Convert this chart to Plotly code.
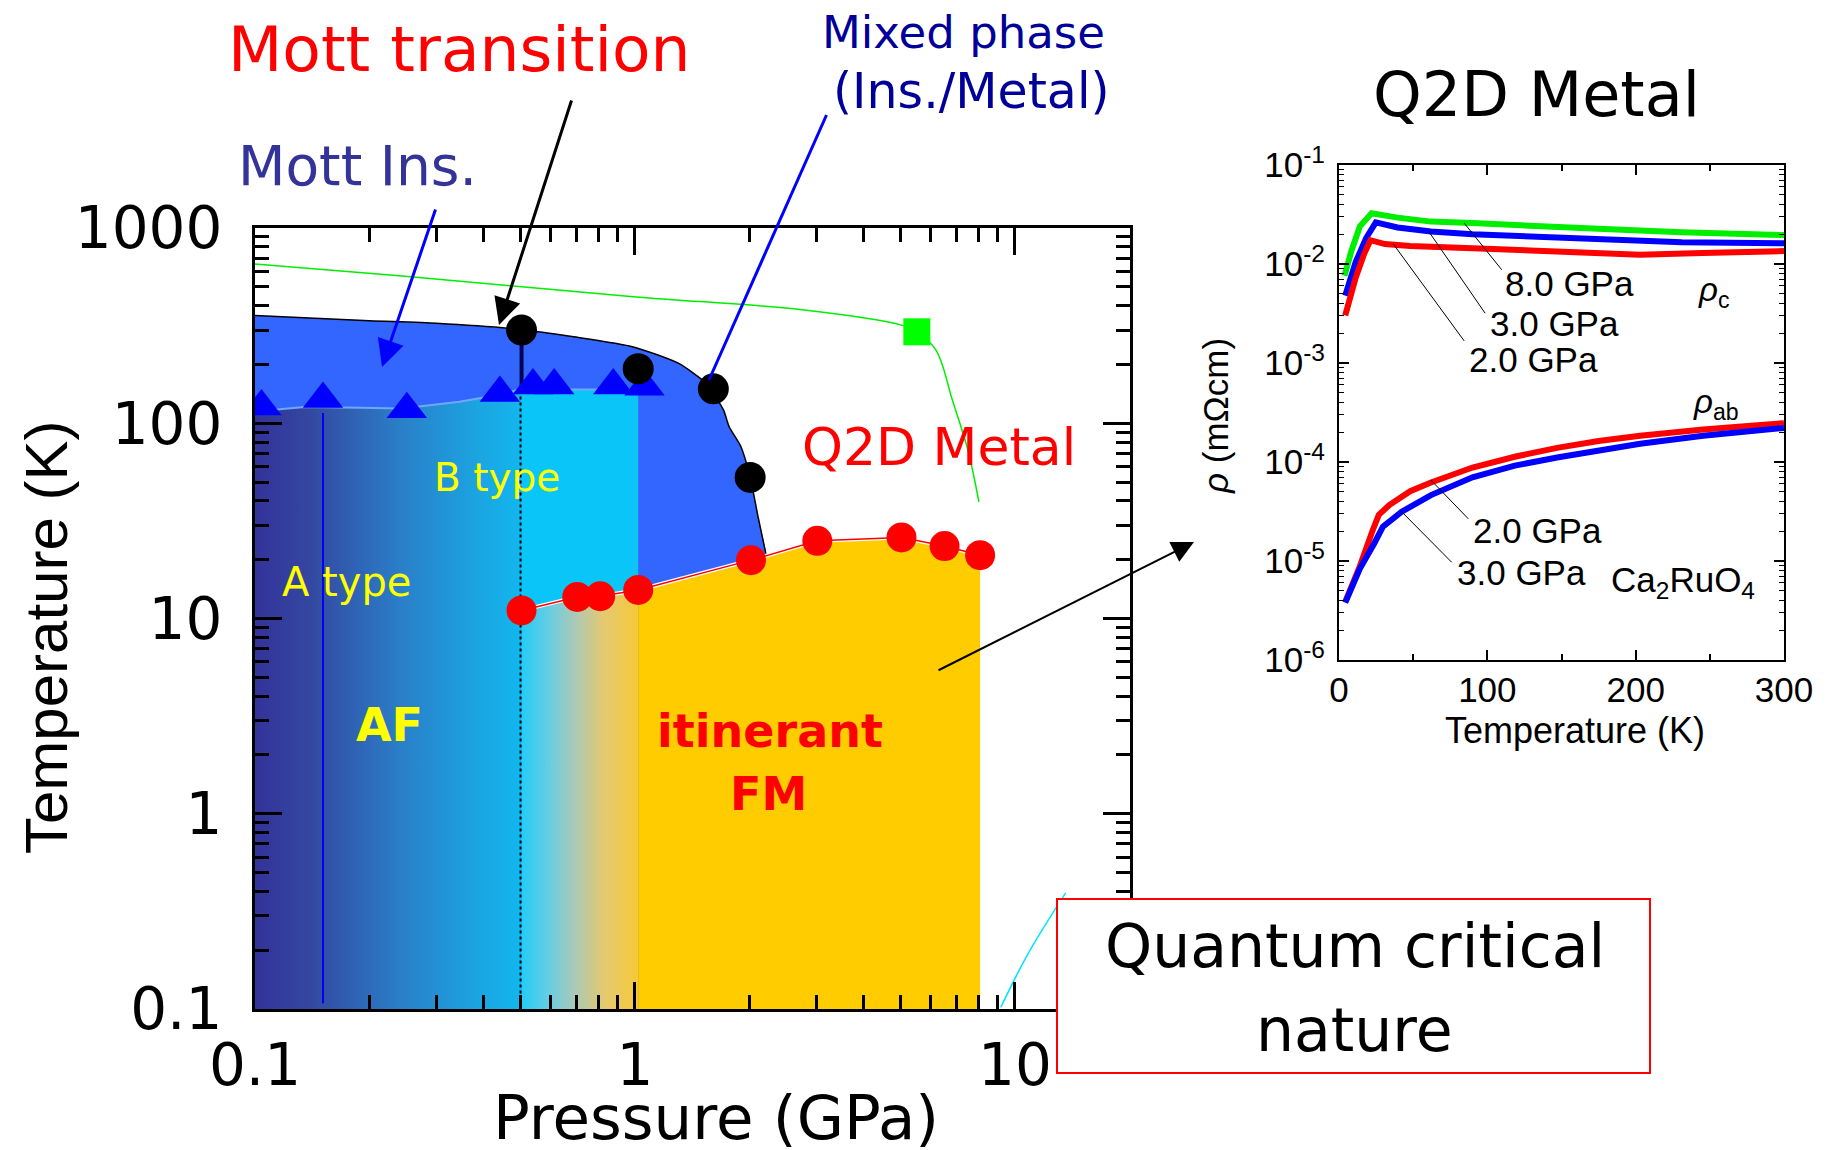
import plotly.graph_objects as go

W, H = 1836, 1150

# ---------------- phase diagram (main panel) ----------------
# metal-insulator boundary T_MI(P)
mi_P = [0.1, 0.2, 0.3, 0.5, 0.69, 0.99, 1.3, 1.54, 1.71, 1.77, 1.90, 2.01, 2.11, 2.22]
mi_T = [356, 335, 325, 302, 277, 246, 203, 160, 117, 96, 76, 53, 33, 20.7]

# top edge of the AF (A type) region
af_P = [0.1, 0.135, 0.19, 0.244, 0.345, 0.44, 0.489, 0.5]
af_T = [115, 121, 120, 119, 129, 140, 148, 149]

# top edge of the B type region
bt_P = [0.5, 1.02]
bt_T = [149, 149]

# Neel temperature (triangles)
tri_P = [0.104, 0.151, 0.251, 0.441, 0.539, 0.613, 0.877, 1.06]
tri_T = [122, 133, 118, 143, 156, 156, 156, 154]

# T_MI points (black circles)
mi_pts_P = [0.503, 1.02, 1.608, 2.01]
mi_pts_T = [300, 190, 150, 52.8]

# Curie temperature (red circles)
fm_P = [0.503, 0.705, 0.81, 1.02, 2.02, 3.02, 5.03, 6.53, 8.1]
fm_T = [11.0, 12.9, 13.0, 14.0, 19.9, 25.0, 26.0, 23.5, 21.1]

# crossover line (green) and its marker
gr_P = [0.1, 0.244, 0.99, 2.79, 5.03, 5.52, 6.2, 6.85, 7.52, 8.04]
gr_T = [654, 568, 445, 380, 318, 294, 237, 131, 73, 39.6]
sq_P = [5.52]
sq_T = [294]

# line towards the quantum critical point
qc_P = [9.18, 10.8, 13.6]
qc_T = [0.102, 0.19, 0.393]

T_FLOOR = 0.1

# ---------------- resistivity (inset) ----------------
T_c8 = [3.7, 8.5, 14.1, 22, 39.5, 62, 90, 133, 175, 231, 300]
r_c8 = [7.6e-3, 1.38e-2, 2.4e-2, 3.26e-2, 2.94e-2, 2.68e-2, 2.59e-2, 2.40e-2, 2.27e-2, 2.09e-2, 1.96e-2]

T_c3 = [4.2, 11.3, 18.3, 24.8, 39.5, 62, 90, 133, 175, 231, 300]
r_c3 = [4.8e-3, 1.05e-2, 1.83e-2, 2.63e-2, 2.34e-2, 2.13e-2, 2.00e-2, 1.89e-2, 1.77e-2, 1.66e-2, 1.62e-2]

T_c2 = [4.2, 11.3, 16.9, 21.2, 31, 48, 90, 133, 175, 203, 245, 300]
r_c2 = [3.03e-3, 7.3e-3, 1.26e-2, 1.74e-2, 1.59e-2, 1.52e-2, 1.44e-2, 1.35e-2, 1.26e-2, 1.24e-2, 1.29e-2, 1.35e-2]

T_ab2 = [4.2, 14.1, 22.6, 26.8, 33.9, 48, 62, 90, 118.5, 147, 175, 203, 245.5, 300]
r_ab2 = [3.86e-6, 8.9e-6, 2.02e-5, 2.92e-5, 3.67e-5, 5.07e-5, 6.2e-5, 8.8e-5, 1.13e-4, 1.39e-4, 1.63e-4, 1.84e-4, 2.13e-4, 2.47e-4]

T_ab3 = [4.2, 14.1, 24, 29.6, 42.3, 62, 90, 118.5, 147, 175, 203, 245.5, 300]
r_ab3 = [3.8e-6, 8.4e-6, 1.53e-5, 2.22e-5, 3.15e-5, 4.63e-5, 7.0e-5, 9.2e-5, 1.11e-4, 1.30e-4, 1.53e-4, 1.84e-4, 2.21e-4]

# leader lines: (T_start, rho_start, T_end, rho_end)
leaders = [
    (84.4, 10 ** -1.587, 109.7, 10 ** -2.058),
    (60.5, 10 ** -1.671, 98.5, 10 ** -2.497),
    (36.6, 10 ** -1.798, 84.4, 10 ** -2.777),
    (61.9, 10 ** -4.182, 87.2, 10 ** -4.574),
    (42.2, 10 ** -4.502, 76.0, 10 ** -5.013),
]

COMIC = "Comic Sans MS, DejaVu Sans, sans-serif"
ARIAL = "Liberation Sans, Arial, sans-serif"
WIDE = "DejaVu Sans, sans-serif"

fig = go.Figure()


def main(**kw):
    kw.setdefault("hoverinfo", "skip")
    kw.setdefault("showlegend", False)
    fig.add_trace(go.Scatter(xaxis="x", yaxis="y", **kw))


def inset(**kw):
    kw.setdefault("hoverinfo", "skip")
    kw.setdefault("showlegend", False)
    fig.add_trace(go.Scatter(xaxis="x2", yaxis="y2", **kw))


# Mott insulator region, under the T_MI line
main(x=mi_P + [mi_P[-1], mi_P[0]], y=mi_T + [T_FLOOR, T_FLOOR],
     fill="toself", fillcolor="#3366FF", mode="lines",
     line=dict(width=0, shape="spline", smoothing=0.6))

# A type AF region with a horizontal colour ramp
main(x=af_P + [af_P[-1], af_P[0]], y=af_T + [T_FLOOR, T_FLOOR],
     fill="toself", mode="lines", line=dict(width=0),
     fillgradient=dict(type="horizontal",
                       colorscale=[[0, "#333399"], [0.2, "#3446A0"], [0.55, "#2A7FC8"],
                                   [0.85, "#1AA6E2"], [1, "#12B6EE"]]))

# B type region
main(x=bt_P + [bt_P[-1], bt_P[0]], y=bt_T + [T_FLOOR, T_FLOOR],
     fill="toself", fillcolor="#0AC6F8", mode="lines", line=dict(width=0))

# crossover from AF to FM below T_C
lo = [p for p in fm_P if p <= 1.02]
lo_T = fm_T[:len(lo)]
main(x=lo + [lo[-1], lo[0]], y=lo_T + [T_FLOOR, T_FLOOR],
     fill="toself", mode="lines", line=dict(width=0),
     fillgradient=dict(type="horizontal",
                       colorscale=[[0, "#22CCF8"], [0.25, "#6CCDE0"], [0.45, "#A9C9B9"],
                                   [0.7, "#E2C971"], [1, "#F8C838"]]))

# itinerant FM region
hi = fm_P[len(lo) - 1:]
hi_T = fm_T[len(lo) - 1:]
main(x=hi + [hi[-1], hi[0]], y=hi_T + [T_FLOOR, T_FLOOR],
     fill="toself", fillcolor="#FFCC00", mode="lines", line=dict(width=0))

# crossover line and marker
main(x=gr_P, y=gr_T, mode="lines", line=dict(color="#00EE00", width=1.5, shape="spline"))
main(x=sq_P, y=sq_T, mode="markers", marker=dict(symbol="square", size=27, color="#00FF00"))

# line towards QCP
main(x=qc_P, y=qc_T, mode="lines", line=dict(color="#00E5FF", width=1.5, shape="spline"))

# vertical guide lines
main(x=[tri_P[1], tri_P[1]], y=[113, 0.107], mode="lines", line=dict(color="#0000FF", width=2))
main(x=[0.5, 0.5], y=[137, T_FLOOR], mode="lines", line=dict(color="black", width=2, dash="dot"))
main(x=[mi_pts_P[0], mi_pts_P[0]], y=[mi_pts_T[0], 142], mode="lines",
     line=dict(color="#000055", width=4))

# phase boundaries
main(x=af_P + bt_P[1:], y=af_T + bt_T[1:], mode="lines", line=dict(color="#6FA8FF", width=2))
main(x=mi_P, y=mi_T, mode="lines", line=dict(color="black", width=1.5, shape="spline", smoothing=0.6))
main(x=fm_P, y=fm_T, mode="lines", line=dict(color="white", width=4))
main(x=fm_P, y=fm_T, mode="lines", line=dict(color="#FF0000", width=1.5))

# data points
main(x=tri_P, y=tri_T, mode="markers", marker=dict(symbol="triangle-up", size=35, color="#0000FF"))
main(x=mi_pts_P, y=mi_pts_T, mode="markers", marker=dict(symbol="circle", size=31, color="black"))
main(x=fm_P, y=fm_T, mode="markers", marker=dict(symbol="circle", size=30, color="#FF0000"))

# ---------------- inset curves ----------------
LW = 6
inset(x=T_c8, y=r_c8, mode="lines", line=dict(color="#00EE00", width=LW))
inset(x=T_c3, y=r_c3, mode="lines", line=dict(color="#0000FF", width=LW))
inset(x=T_c2, y=r_c2, mode="lines", line=dict(color="#FF0000", width=LW))
inset(x=T_ab2, y=r_ab2, mode="lines", line=dict(color="#FF0000", width=LW))
inset(x=T_ab3, y=r_ab3, mode="lines", line=dict(color="#0000FF", width=LW))
for t0, r0, t1, r1 in leaders:
    inset(x=[t0, t1], y=[r0, r1], mode="lines", line=dict(color="black", width=1))


def minor_log(e0, e1):
    return [k * 10 ** e for e in range(e0, e1) for k in range(2, 10)]


axis_common = dict(showline=True, linecolor="black", mirror="ticks", ticks="inside",
                   tickcolor="black", showgrid=False, zeroline=False, automargin=False)

fig.update_layout(
    width=W, height=H, autosize=False,
    margin=dict(l=0, r=0, t=0, b=0, pad=0, autoexpand=False),
    paper_bgcolor="white", plot_bgcolor="white",
    showlegend=False,
    xaxis=dict(axis_common, type="log", range=[-1, 1.303],
               domain=[255 / W, 1130 / W], anchor="y",
               linewidth=3, ticklen=27, tickwidth=3,
               tickvals=[0.1, 1, 10], ticktext=["0.1", "1", "10"],
               tickfont=dict(family=WIDE, size=58, color="black"),
               ticklabelstandoff=3,
               minor=dict(ticks="inside", ticklen=14, tickwidth=2.5, tickcolor="black",
                          tickvals=minor_log(-1, 1), showgrid=False)),
    yaxis=dict(axis_common, type="log", range=[-1, 3],
               domain=[1 - 1009 / H, 1 - 228 / H], anchor="x",
               linewidth=3, ticklen=27, tickwidth=3,
               tickvals=[0.1, 1, 10, 100, 1000], ticktext=["0.1", "1", "10", "100", "1000"],
               tickfont=dict(family=WIDE, size=58, color="black"),
               ticklabelstandoff=18,
               minor=dict(ticks="inside", ticklen=14, tickwidth=2.5, tickcolor="black",
                          tickvals=minor_log(-1, 3), showgrid=False)),
    xaxis2=dict(axis_common, range=[0, 300],
                domain=[1339 / W, 1784 / W], anchor="y2",
                linewidth=2, ticklen=10, tickwidth=1.5,
                tickvals=[0, 100, 200, 300], ticktext=["0", "100", "200", "300"],
                tickfont=dict(family=ARIAL, size=35, color="black"),
                ticklabelstandoff=-2,
                minor=dict(ticks="inside", ticklen=6, tickwidth=1.5, tickcolor="black",
                           tickvals=[50, 150, 250], showgrid=False)),
    yaxis2=dict(axis_common, type="log", range=[-6, -1],
                domain=[1 - 660 / H, 1 - 165 / H], anchor="x2",
                linewidth=2, ticklen=10, tickwidth=1.5,
                tickvals=[10 ** e for e in range(-6, 0)],
                ticktext=["10<sup>-%d</sup>" % -e for e in range(-6, 0)],
                tickfont=dict(family=ARIAL, size=35, color="black"),
                ticklabelstandoff=5,
                minor=dict(ticks="inside", ticklen=5, tickwidth=1, tickcolor="black",
                           tickvals=minor_log(-6, -1), showgrid=False)),
)


def px(x):
    return x / W


def py(y):
    return 1 - y / H


def label(text, x, y, size, color="black", family=COMIC, angle=0):
    fig.add_annotation(text=text, x=px(x), y=py(y), xref="paper", yref="paper",
                       xanchor="center", yanchor="middle", showarrow=False, textangle=angle,
                       font=dict(family=family, size=size, color=color))


def arrow(x0, y0, x1, y1, color, width, size):
    fig.add_annotation(text="", x=px(x1), y=py(y1), xref="paper", yref="paper",
                       ax=x0 - x1, ay=y0 - y1, axref="pixel", ayref="pixel",
                       showarrow=True, arrowhead=2, arrowsize=size,
                       arrowwidth=width, arrowcolor=color)


# axis titles
label("Pressure (GPa)", 716, 1117, 61, family=WIDE)
label("Temperature (K)", 46, 638, 60, family=ARIAL, angle=-90)
label("Temperature (K)", 1575, 730, 36, family=ARIAL)
label("<i>ρ</i> (mΩcm)", 1216, 416, 35, family=ARIAL, angle=-90)

# phase diagram labels
label("Mott transition", 459, 50, 63, "#FF0000")
label("Mixed phase", 963, 32, 45, "#000099")
label("(Ins./Metal)", 971, 92, 49, "#000099")
label("Mott Ins.", 357, 166, 55, "#333399")
label("Q2D Metal", 939, 447, 52, "#FF0000")
label("B type", 497, 478, 39, "#FFFF00")
label("A type", 346, 582, 40, "#FFFF00")
label("<b>AF</b>", 389, 725, 46, "#FFFF00")
label("<b>itinerant</b>", 770, 731, 46, "#FF0000")
label("<b>FM</b>", 768, 794, 46, "#FF0000")

# inset labels
label("Q2D Metal", 1536, 94, 62)
label("8.0 GPa", 1569, 284, 35, family=ARIAL)
label("3.0 GPa", 1554, 323, 35, family=ARIAL)
label("2.0 GPa", 1533, 360, 35, family=ARIAL)
label("<i>ρ</i><sub>c</sub>", 1713, 292, 33, family=ARIAL)
label("<i>ρ</i><sub>ab</sub>", 1716, 404, 33, family=ARIAL)
label("2.0 GPa", 1537, 530, 35, family=ARIAL)
label("3.0 GPa", 1521, 572, 35, family=ARIAL)
label("Ca<sub>2</sub>RuO<sub>4</sub>", 1683, 582, 35, family=ARIAL)

# pointers
arrow(436, 208, 382, 367, "#0000FF", 3, 1.8)
arrow(572, 99, 499, 325, "black", 3, 1.8)
arrow(937, 671, 1194, 542, "black", 2, 2.2)
fig.add_shape(type="line", xref="paper", yref="paper",
              x0=px(826.5), y0=py(115), x1=px(709), y1=py(380),
              line=dict(color="#0000FF", width=3))

# boxed note
fig.add_shape(type="rect", xref="paper", yref="paper", layer="above",
              x0=px(1057), y0=py(899), x1=px(1650), y1=py(1073),
              fillcolor="white", line=dict(color="#FF0000", width=2))
label("Quantum critical", 1355, 946, 60)
label("nature", 1354, 1030, 60)

fig.write_html("out.html")
